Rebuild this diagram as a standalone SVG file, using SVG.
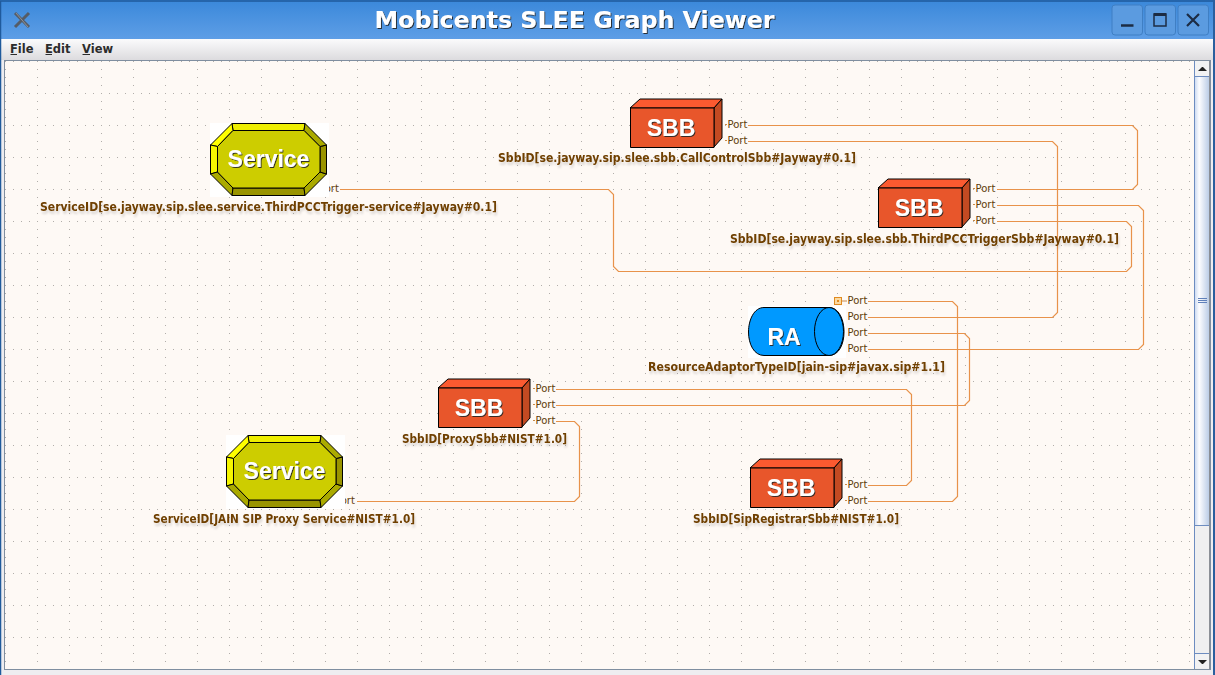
<svg xmlns="http://www.w3.org/2000/svg" xmlns:xlink="http://www.w3.org/1999/xlink" width="1215" height="675" viewBox="0 0 1215 675">
<style>
.conn{fill:none;stroke:#e8924a;stroke-width:1.2}
.port{font:10px "DejaVu Sans",sans-serif;fill:#5f3c08}
.tick{stroke:#c88a4a;stroke-width:1}
.lbl{font:bold 11.5px "DejaVu Sans",sans-serif;fill:#6f3f00;filter:url(#ls)}
.big{font:bold 23px "Liberation Sans",Arial,sans-serif;fill:#fff;text-anchor:middle;filter:url(#bs)}
.menu{font:bold 11.5px "DejaVu Sans",sans-serif;fill:#2c2c2c}
.ol{stroke:#000;stroke-width:1;stroke-linejoin:round}
.btn{fill:#5b9be0;stroke:#3f7fc4;stroke-width:1}
</style>
<defs>
<linearGradient id="tb" x1="0" y1="0" x2="0" y2="1"><stop offset="0" stop-color="#3a88da"/><stop offset="1" stop-color="#5e9ee6"/></linearGradient>
<linearGradient id="mb" x1="0" y1="0" x2="0" y2="1"><stop offset="0" stop-color="#fbfbfc"/><stop offset="1" stop-color="#dcdbde"/></linearGradient>
<linearGradient id="sb" x1="0" y1="0" x2="1" y2="0"><stop offset="0" stop-color="#cfdcf2"/><stop offset=".3" stop-color="#fdfdff"/><stop offset="1" stop-color="#bccde6"/></linearGradient>
<pattern id="grid" x="5" y="61" width="32" height="32" patternUnits="userSpaceOnUse">
<path d="M0 .5h1M8 .5h1M16 .5h1M24 .5h1M0 8.500h1M0 16.500h1M0 24.500h1" stroke="#b2aeaa" stroke-width="1" fill="none"/>
</pattern>
<filter id="ls" x="-5%" y="-30%" width="110%" height="190%"><feDropShadow dx="1" dy="3" stdDeviation="1" flood-color="#000" flood-opacity=".14"/></filter>
<filter id="bs" x="-10%" y="-20%" width="120%" height="140%"><feDropShadow dx="1" dy="1" stdDeviation=".3" flood-color="#222" flood-opacity=".9"/></filter>
<g id="sbb">
<path class="ol" d="M0 0L10 -9H92L84 0Z" fill="#fb5a30"/>
<path class="ol" d="M84 0L92 -9V30L84 39Z" fill="#c34a22"/>
<rect class="ol" x="0.500" y="0" width="83.500" height="39.500" fill="#e8562b"/>
</g>
<g id="svc">
<rect x="0" y="0" width="119" height="74" fill="#fff"/>
<path class="ol" d="M22 .5H95L94 7.500H23Z" fill="#eeee00"/>
<path class="ol" d="M22 .5L23 7.500L7.500 23.500L.5 22Z" fill="#ffff00"/>
<path class="ol" d="M.5 22L7.500 23.500V49L.5 51Z" fill="#f6f600"/>
<path class="ol" d="M.5 51L7.500 49L23 65L22 72.500Z" fill="#aaaa00"/>
<path class="ol" d="M22 72.500L23 65H94L95 72.500Z" fill="#999400"/>
<path class="ol" d="M95 72.500L94 65L110 49L116.500 51Z" fill="#aaaa00"/>
<path class="ol" d="M116.500 51L110 49V23.500L116.500 22Z" fill="#999400"/>
<path class="ol" d="M116.500 22L110 23.500L94 7.500L95 .5Z" fill="#aaaa00"/>
<path class="ol" d="M23 7.500H94L110 23.500V49L94 65H23L7.500 49V23.500Z" fill="#cdcd00"/>
</g>
</defs>

<g id="window">
<rect width="1215" height="675" fill="#eeedf0"/>
<rect x="0" y="0" width="1215" height="39" fill="url(#tb)"/>
<rect x="0" y="39" width="1215" height="21" fill="url(#mb)"/>
<path d="M.5 675V1H1214.500V675" fill="none" stroke="#1f5a9c" stroke-width="1.500"/>
<rect x="1213" y="0" width="2" height="675" fill="#2a5f9e"/>
<rect x="5" y="61" width="1190" height="608" fill="#fef9f5"/>
<rect x="5" y="61" width="1190" height="608" fill="url(#grid)"/>
<rect x="4.500" y="60.500" width="1206" height="609" fill="none" stroke="#7f8ea0" stroke-width="1"/>
<path d="M15 13L29 27M29 13L15 27" stroke="#555c66" stroke-width="3" fill="none"/>
<path d="M16 13L28 27" stroke="#8d939b" stroke-width="1" fill="none"/>
<text x="574.500" y="28" text-anchor="middle" style="font:bold 23px 'DejaVu Sans',sans-serif;fill:#fff;filter:url(#bs)" textLength="400" lengthAdjust="spacingAndGlyphs">Mobicents SLEE Graph Viewer</text>
<rect class="btn" x="1112" y="5" width="30.500" height="30" rx="3"/>
<rect class="btn" x="1145" y="5" width="30.500" height="30" rx="3"/>
<rect class="btn" x="1178" y="5" width="30.500" height="30" rx="3"/>
<path d="M1121 25.500H1133.500" stroke="#1c2c44" stroke-width="2.500"/>
<rect x="1154" y="14" width="12" height="12" fill="none" stroke="#1c2c44" stroke-width="1.500"/>
<path d="M1154 14.500H1166" stroke="#1c2c44" stroke-width="3"/>
<path d="M1187 14L1199 26M1199 14L1187 26" stroke="#1c2c44" stroke-width="2.200"/>
<text class="menu" x="10" y="52.500">File</text>
<text class="menu" x="45" y="52.500">Edit</text>
<text class="menu" x="82" y="52.500">View</text>
<path d="M10.500 54.500H17M45.500 54.500H52M82.500 54.500H90" stroke="#2c2c2c" stroke-width="1"/>
</g>

<g id="scrollbar">
<rect x="1195" y="61" width="15" height="608" fill="#efeff0"/>
<rect x="1195" y="77" width="14" height="448" fill="url(#sb)"/>
<path d="M1194.500 61V669" stroke="#6d8cc0" stroke-width="1"/>
<path d="M1195 76.500H1209M1195 525.500H1209M1195 653.500H1209" stroke="#6d8cc0" stroke-width="1"/>
<path d="M1209.500 61V669" stroke="#8b8f96" stroke-width="1"/>
<rect x="1195" y="654" width="14" height="14" fill="#f2f2f3"/>
<rect x="1195" y="61" width="14" height="15" fill="#f2f2f3"/>
<path d="M1198 298.500H1207M1198 300.500H1207M1198 302.500H1207" stroke="#5f80ba" stroke-width="1"/>
<path d="M1198 71L1202 67H1203L1207 71Z" fill="#222"/>
<path d="M1198 660H1207L1203 664H1202Z" fill="#222"/>
</g>

<g id="connectors">
<path class="conn" d="M748 125.500H1132.500L1137.500 130.500V184.500L1132.500 189.500H997"/>
<path class="conn" d="M748 141.500H1052.500L1057.500 146.500V312.500L1052.500 317.500H868"/>
<path class="conn" d="M997 205.500H1138.500L1143.500 210.500V344.500L1138.500 349.500H868"/>
<path class="conn" d="M997 221.500H1126.500L1131.500 226.500V266.500L1126.500 271.500H618.500L613.500 266.500V194.500L608.500 189.500H340"/>
<path class="conn" d="M868 301.500H952.500L957.500 306.500V496.500L952.500 501.500H868"/>
<path class="conn" d="M868 333.500H964.500L969.500 338.500V400.500L964.500 405.500H556"/>
<path class="conn" d="M556 389.500H906.500L911.500 394.500V480.500L906.500 485.500H868"/>
<path class="conn" d="M556 421.500H574.500L579.500 426.500V496.500L574.500 501.500H357"/>
</g>

<g id="sbb-callcontrol">
<use href="#sbb" x="630" y="108"/>
<text class="big" x="671" y="136">SBB</text>
<path class="tick" d="M725 124.500H727M725 140.500H727"/>
<text class="port" x="727.500" y="128">Port</text>
<text class="port" x="727.500" y="144">Port</text>
<text class="lbl" x="498" y="162" textLength="358" lengthAdjust="spacingAndGlyphs">SbbID[se.jayway.sip.slee.sbb.CallControlSbb#Jayway#0.1]</text>
</g>

<g id="sbb-thirdpcc">
<use href="#sbb" x="878" y="188"/>
<text class="big" x="919" y="216">SBB</text>
<path class="tick" d="M973 188.500H975M973 204.500H975M973 220.500H975"/>
<text class="port" x="975.500" y="192">Port</text>
<text class="port" x="975.500" y="208">Port</text>
<text class="port" x="975.500" y="224">Port</text>
<text class="lbl" x="730" y="243" textLength="389" lengthAdjust="spacingAndGlyphs">SbbID[se.jayway.sip.slee.sbb.ThirdPCCTriggerSbb#Jayway#0.1]</text>
</g>

<g id="service-thirdpcc">
<text class="port" x="319" y="192">Port</text>
<use href="#svc" x="210" y="123"/>
<text class="big" x="268.500" y="167">Service</text>
<text class="lbl" x="40" y="211" textLength="457" lengthAdjust="spacingAndGlyphs">ServiceID[se.jayway.sip.slee.service.ThirdPCCTrigger-service#Jayway#0.1]</text>
</g>

<g id="ra-jain-sip">
<rect x="748" y="306" width="98" height="52" fill="#fff"/>
<path class="ol" d="M764 307.500H829C839 307.500 844 320 844 332C844 344 839 355.500 829 355.500H764C754 355.500 748.500 344 748.500 332C748.500 320 754 307.500 764 307.500Z" fill="#0099ff"/>
<ellipse cx="829" cy="331.500" rx="14.500" ry="24" fill="#0099ff" stroke="#000" stroke-width="1"/>
<text class="big" x="784" y="345">RA</text>
<rect x="834.500" y="297.500" width="7" height="7" fill="#fbd9a0" stroke="#e08a20" stroke-width="1"/>
<rect x="837" y="300" width="2" height="2" fill="#e08a20"/>
<path class="tick" d="M842 301H847"/>
<text class="port" x="847.500" y="304">Port</text>
<text class="port" x="847.500" y="320">Port</text>
<text class="port" x="847.500" y="336">Port</text>
<text class="port" x="847.500" y="352">Port</text>
<text class="lbl" x="648" y="371" textLength="297" lengthAdjust="spacingAndGlyphs">ResourceAdaptorTypeID[jain-sip#javax.sip#1.1]</text>
</g>

<g id="sbb-proxy">
<use href="#sbb" x="438" y="388"/>
<text class="big" x="479" y="416">SBB</text>
<path class="tick" d="M533 388.500H535M533 404.500H535M533 420.500H535"/>
<text class="port" x="535.500" y="392">Port</text>
<text class="port" x="535.500" y="408">Port</text>
<text class="port" x="535.500" y="424">Port</text>
<text class="lbl" x="402" y="443" textLength="165" lengthAdjust="spacingAndGlyphs">SbbID[ProxySbb#NIST#1.0]</text>
</g>

<g id="service-proxy">
<text class="port" x="335" y="504">Port</text>
<use href="#svc" x="226" y="435"/>
<text class="big" x="284.500" y="479">Service</text>
<text class="lbl" x="153" y="523" textLength="262" lengthAdjust="spacingAndGlyphs">ServiceID[JAIN SIP Proxy Service#NIST#1.0]</text>
</g>

<g id="sbb-registrar">
<use href="#sbb" x="750" y="468"/>
<text class="big" x="791" y="496">SBB</text>
<path class="tick" d="M845 484.500H847M845 500.500H847"/>
<text class="port" x="847.500" y="488">Port</text>
<text class="port" x="847.500" y="504">Port</text>
<text class="lbl" x="693" y="523" textLength="206" lengthAdjust="spacingAndGlyphs">SbbID[SipRegistrarSbb#NIST#1.0]</text>
</g>
</svg>
